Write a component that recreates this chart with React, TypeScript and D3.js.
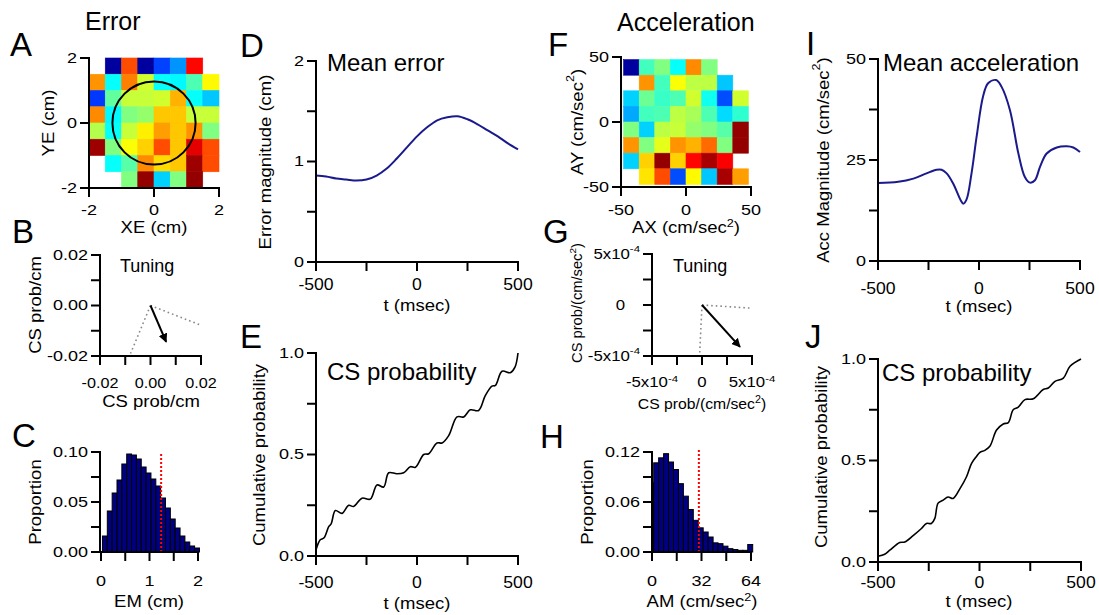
import React from 'react';
import * as d3 from 'd3';

const FONT = "'Liberation Sans', Arial, Helvetica, sans-serif";

// ---------------- DATA ----------------
// Panel A: error heat map (jet colour index 0..1, null = empty), rows top (YE=2) to bottom
const errorGridOrigin = [-2, 2];
const errorCellSize = 0.5;
const errorGrid: (number | null)[][] = [
  [null, 0.03, 0.8, 0.03, 0.19, 0.27, 0.87, null],
  [0.73, 0.38, 0.75, 0.58, 0.38, 0.37, 0.45, 0.63],
  [0.18, 0.47, 0.57, 0.57, 0.58, 0.7, 0.38, 0.32],
  [0.74, 0.37, 0.5, 0.52, 0.68, 0.68, 0.57, 0.57],
  [0.55, 0.38, 0.57, 0.64, 0.72, 0.68, 0.73, 0.5],
  [0.97, 0.5, 0.62, 0.67, 0.8, 0.68, 0.9, 0.8],
  [null, 0.38, 0.46, 0.74, 0.66, 0.68, 0.97, 0.8],
  [null, null, 0.5, 0.98, 0.33, 0.5, 0.98, null],
];
const errorCircleRadius = 1.28;

// Panel F: acceleration heat map
const accGridOrigin = [-48, 48];
const accCellSize = 12;
const accGrid: (number | null)[][] = [
  [0.03, 0.44, 0.5, 0.38, 0.74, 0.5, null, null],
  [null, 0.73, 0.44, 0.62, 0.56, 0.56, 0.32, null],
  [0.33, 0.48, 0.43, 0.45, 0.58, 0.39, 0.2, 0.58],
  [0.29, 0.44, 0.45, 0.56, 0.54, 0.45, 0.34, 0.42],
  [0.5, 0.33, 0.56, 0.57, 0.52, 0.5, 0.46, 0.98],
  [0.73, 0.5, 0.6, 0.73, 0.7, 0.77, 0.5, 0.98],
  [0.33, 0.67, 0.98, 0.67, 0.87, 0.96, 0.88, null],
  [null, 0.65, 0.8, 0.2, 0.63, 0.32, 0.96, 0.72],
];

// Panels B, G: tuning vectors
const tuningErrorDotted = [[0.0197, -0.0077], [-0.0079, -0.019]];
const tuningErrorArrow = [0.0062, -0.0144];
const tuningAccDotted = [[4.8e-4, -0.3e-4], [-0.23e-4, -4.7e-4]];
const tuningAccArrow = [3.8e-4, -4.1e-4];

// Panel C: error magnitude histogram
const emBinStart = 0.03;
const emBinWidth = 0.1;
const emProportion = [0.016, 0.041, 0.059, 0.072, 0.088, 0.098, 0.097, 0.093, 0.085, 0.079, 0.073, 0.066, 0.054, 0.044, 0.033, 0.024, 0.016, 0.01, 0.006, 0.004];
const emThreshold = 1.24;

// Panel H: acceleration magnitude histogram
const amBinStart = -2.1;
const amBinWidth = 3.2;
const amProportion = [0.083, 0.107, 0.113, 0.118, 0.108, 0.099, 0.082, 0.067, 0.051, 0.038, 0.029, 0.024, 0.018, 0.011, 0.01, 0.007, 0.004, 0.003, 0.002, 0.002, 0.009];
const amThreshold = 30.3;

// Panel D: mean error
const meanErrorT = [-500, -450, -400, -350, -300, -250, -200, -150, -100, -50, 0, 50, 100, 150, 200, 250, 300, 350, 400, 450, 500];
const meanError = [0.86, 0.85, 0.83, 0.82, 0.81, 0.82, 0.86, 0.93, 1.03, 1.14, 1.25, 1.34, 1.41, 1.44, 1.45, 1.42, 1.37, 1.31, 1.25, 1.18, 1.12];

// Panel E: CS probability (error)
const csErrT = [-500, -490, -479, -460, -437, -425, -404, -371, -338, -314, -272, -231, -198, -165, -140, -100, -66, -33, -8, 33, 58, 99, 124, 157, 198, 231, 264, 305, 338, 371, 388, 421, 462, 485, 500];
const csErrP = [0.03, 0.06, 0.08, 0.09, 0.145, 0.158, 0.224, 0.21, 0.25, 0.244, 0.285, 0.28, 0.35, 0.34, 0.41, 0.405, 0.41, 0.44, 0.437, 0.5, 0.504, 0.557, 0.557, 0.593, 0.685, 0.685, 0.72, 0.717, 0.79, 0.837, 0.84, 0.91, 0.903, 0.93, 1.0];

// Panel I: mean acceleration
const meanAccT = [-500, -400, -325, -260, -210, -185, -160, -128, -90, -78, -62, -37, -12, 20, 45, 85, 112, 153, 195, 227, 252, 277, 302, 335, 385, 435, 467, 500];
const meanAcc = [19.3, 19.6, 20.4, 21.7, 22.6, 22.6, 21.7, 19.2, 15, 14.2, 15.2, 21.7, 30.7, 40.7, 44, 44.8, 43.1, 37.4, 26.6, 20.8, 19.4, 20, 23.3, 26.6, 28.1, 28.4, 28.1, 27];

// Panel J: CS probability (acceleration)
const csAccT = [-500, -467, -442, -393, -368, -327, -286, -261, -237, -220, -204, -179, -155, -130, -97, -64, -39, -15, 2, 26, 51, 84, 117, 142, 166, 191, 224, 265, 314, 339, 372, 413, 446, 500];
const csAccP = [0.028, 0.038, 0.058, 0.096, 0.099, 0.13, 0.165, 0.19, 0.19, 0.215, 0.29, 0.305, 0.32, 0.313, 0.36, 0.42, 0.486, 0.52, 0.54, 0.55, 0.57, 0.65, 0.68, 0.687, 0.75, 0.763, 0.8, 0.804, 0.85, 0.857, 0.89, 0.906, 0.964, 1.0];

// Ticks
const tTicks = [-500, -250, 0, 250, 500];
const tLabels = ['-500', '0', '500'];
const cmTicks = [-2, 0, 2];
const accTicks = [-50, 0, 50];
const tuneErrTicks = [-0.02, -0.01, 0, 0.01, 0.02];
const tuneErrLabels = ['-0.02', '0.00', '0.02'];
const tuneAccTicks = [-5e-4, -2.5e-4, 0, 2.5e-4, 5e-4];
const emXTicks = [0, 0.5, 1, 1.5, 2];
const emYTicks = [0, 0.025, 0.05, 0.075, 0.1];
const emYLabels = ['0.00', '0.05', '0.10'];
const amXTicks = [0, 16, 32, 48, 64];
const amYTicks = [0, 0.03, 0.06, 0.09, 0.12];
const amYLabels = ['0.00', '0.06', '0.12'];
const meYTicks = [0, 0.5, 1, 1.5, 2];
const probTicks = [0, 0.25, 0.5, 0.75, 1];
const probLabels = ['0.0', '0.5', '1.0'];
const maTicks = [0, 12.5, 25, 37.5, 50];

// ---------------- HELPERS ----------------
const TICK = 15;
const TSX = 1.2;
const AXT = 17;
const ASX = 1.09;

function jet(v: number) {
  const c = (t: number) => Math.max(0, Math.min(1, t));
  const r = c(1.5 - Math.abs(4 * v - 3));
  const g = c(1.5 - Math.abs(4 * v - 2));
  const b = c(1.5 - Math.abs(4 * v - 1));
  return d3.rgb(r * 255, g * 255, b * 255).formatHex();
}

function T({ x, y, size, anchor = 'start', rot = 0, sx = 1, mid = false, children, fill = '#000' }: any) {
  const tr = `translate(${x},${y})` + (rot ? ` rotate(${rot})` : '') + (sx !== 1 ? ` scale(${sx},1)` : '');
  return (
    <text transform={tr} fontSize={size} textAnchor={anchor} dominantBaseline={mid ? 'central' : undefined} fontFamily={FONT} fill={fill}>
      {children}
    </text>
  );
}

function Sup({ s, size }: any) {
  return <tspan dy={-size * 0.38} fontSize={size * 0.68}>{s}</tspan>;
}

function Sq({ size }: any) {
  return (
    <>
      (cm/sec<Sup s="2" size={size} /><tspan dy={size * 0.38}>)</tspan>
    </>
  );
}

function YAxis({ scale, x, ticks, labels, size = TICK, sx = TSX, tl = 9, gap = 3 }: any) {
  const r = scale.range();
  const top = Math.min(r[0], r[1]);
  const bot = Math.max(r[0], r[1]);
  return (
    <g>
      <line x1={x} x2={x} y1={top} y2={bot} stroke="#000" strokeWidth={2} strokeLinecap="square" />
      {ticks.map((t: number) => (
        <line key={t} x1={x - tl} x2={x} y1={scale(t)} y2={scale(t)} stroke="#000" strokeWidth={2} />
      ))}
      {labels.map((l: any, i: number) => (
        <T key={i} x={x - tl - gap - (l.dx || 0)} y={scale(l.v)} size={size} sx={sx} anchor="end" mid>
          {l.text}
        </T>
      ))}
    </g>
  );
}

function XAxis({ scale, y, x0, ticks, labels, labelY, size = TICK, sx = TSX, tl = 9 }: any) {
  const r = scale.range();
  return (
    <g>
      <line x1={x0 ?? r[0]} x2={r[1]} y1={y} y2={y} stroke="#000" strokeWidth={2} strokeLinecap="square" />
      {ticks.map((t: number) => (
        <line key={t} x1={scale(t)} x2={scale(t)} y1={y} y2={y + tl} stroke="#000" strokeWidth={2} />
      ))}
      {labels.map((l: any, i: number) => (
        <T key={i} x={scale(l.v)} y={labelY} size={size} sx={sx} anchor="middle">
          {l.text}
        </T>
      ))}
    </g>
  );
}

function Heat({ grid, origin, cell, xs, ys }: any) {
  return (
    <g>
      {grid.map((row: (number | null)[], r: number) =>
        row.map((v, c) => {
          if (v == null) return null;
          const xa = xs(origin[0] + c * cell);
          const xb = xs(origin[0] + (c + 1) * cell);
          const ya = ys(origin[1] - r * cell);
          const yb = ys(origin[1] - (r + 1) * cell);
          const f = jet(v);
          return <rect key={`${r}-${c}`} x={xa} y={ya} width={xb - xa} height={yb - ya} fill={f} stroke={f} strokeWidth={0.6} />;
        })
      )}
    </g>
  );
}

function Hist({ values, start, width, xs, ys }: any) {
  const d0 = xs.domain()[0];
  return (
    <g>
      {values.map((v: number, i: number) => {
        const a = Math.max(d0, start + i * width);
        const b = start + (i + 1) * width;
        return <rect key={i} x={xs(a)} y={ys(v)} width={xs(b) - xs(a)} height={ys(0) - ys(v)} fill="#000080" stroke="#000" strokeWidth={1} />;
      })}
    </g>
  );
}

function curvePath(xs: any, ys: any, X: number[], Y: number[]) {
  const line = d3
    .line<number>()
    .x((_, i) => xs(X[i]))
    .y((d) => ys(d))
    .curve(d3.curveCatmullRom.alpha(0.5));
  return line(Y) || '';
}

export default function App() {
  const xA = d3.scaleLinear().domain([-2, 2]).range([89, 219]);
  const yA = d3.scaleLinear().domain([-2, 2]).range([188, 58]);
  const xF = d3.scaleLinear().domain([-50, 50]).range([621, 751]);
  const yF = d3.scaleLinear().domain([-50, 50]).range([187, 57]);
  const xB = d3.scaleLinear().domain([-0.02, 0.02]).range([100, 201]);
  const yB = d3.scaleLinear().domain([-0.02, 0.02]).range([356, 255]);
  const xG = d3.scaleLinear().domain([-5e-4, 5e-4]).range([652, 752]);
  const yG = d3.scaleLinear().domain([-5e-4, 5e-4]).range([356, 254]);
  const xC = d3.scaleLinear().domain([0, 2]).range([101, 198]);
  const yC = d3.scaleLinear().domain([0, 0.1]).range([552, 452]);
  const xH = d3.scaleLinear().domain([0, 64]).range([652, 751]);
  const yH = d3.scaleLinear().domain([0, 0.12]).range([552, 452]);
  const xD = d3.scaleLinear().domain([-500, 500]).range([316, 518]);
  const yD = d3.scaleLinear().domain([0, 2]).range([262, 61]);
  const xE = d3.scaleLinear().domain([-500, 500]).range([316, 518]);
  const yE = d3.scaleLinear().domain([0, 1]).range([556, 353]);
  const xI = d3.scaleLinear().domain([-500, 500]).range([878, 1080]);
  const yI = d3.scaleLinear().domain([0, 50]).range([261, 59]);
  const xJ = d3.scaleLinear().domain([-500, 500]).range([878, 1081]);
  const yJ = d3.scaleLinear().domain([0, 1]).range([562, 359]);

  const tl = tLabels.map((t) => ({ v: +t, text: t }));
  const sci = (m: string, size: number) => (
    <>
      {m}x10<Sup s="-4" size={size} />
    </>
  );

  const LET = 33;
  const TIT = 24;

  return (
    <svg width={1099} height={615} style={{ position: 'absolute', left: 0, top: 0, background: '#fff' }} fontFamily={FONT}>
      <defs>
        <marker id="arr" viewBox="0 0 10 10" refX="9" refY="5" markerWidth="9" markerHeight="9" markerUnits="userSpaceOnUse" orient="auto">
          <path d="M0,0 L10,5 L0,10 z" fill="#000" />
        </marker>
      </defs>

      {/* Headings */}
      <T x={85} y={30} size={25}>Error</T>
      <T x={617} y={31} size={25}>Acceleration</T>

      {/* ---------- A ---------- */}
      <T x={10} y={56} size={LET}>A</T>
      <Heat grid={errorGrid} origin={errorGridOrigin} cell={errorCellSize} xs={xA} ys={yA} />
      <ellipse cx={xA(0)} cy={yA(0)} rx={xA(errorCircleRadius) - xA(0)} ry={yA(0) - yA(errorCircleRadius)} fill="none" stroke="#000" strokeWidth={2} />
      <YAxis scale={yA} x={89} ticks={cmTicks} labels={cmTicks.map((v) => ({ v, text: String(v) }))} />
      <XAxis scale={xA} y={188} ticks={cmTicks} labels={cmTicks.map((v) => ({ v, text: String(v) }))} labelY={215} />
      <T x={154} y={233} size={AXT} sx={ASX} anchor="middle">XE (cm)</T>
      <T x={48} y={123} size={AXT} sx={ASX} anchor="middle" rot={-90} mid>YE (cm)</T>

      {/* ---------- B ---------- */}
      <T x={12} y={243} size={LET}>B</T>
      <T x={120} y={272} size={18}>Tuning</T>
      {tuningErrorDotted.map((p, i) => (
        <line key={i} x1={xB(0)} y1={yB(0)} x2={xB(p[0])} y2={yB(p[1])} stroke="#888" strokeWidth={1.6} strokeDasharray="1.6,3" />
      ))}
      <line x1={xB(0)} y1={yB(0)} x2={xB(tuningErrorArrow[0])} y2={yB(tuningErrorArrow[1])} stroke="#000" strokeWidth={2} markerEnd="url(#arr)" />
      <YAxis scale={yB} x={100} ticks={tuneErrTicks} labels={[0.02, 0, -0.02].map((v, i) => ({ v, text: tuneErrLabels[2 - i] }))} />
      <XAxis scale={xB} y={356} ticks={tuneErrTicks} labels={[-0.02, 0, 0.02].map((v, i) => ({ v, text: tuneErrLabels[i] }))} labelY={388} sx={1.08} />
      <T x={151} y={407} size={AXT} sx={ASX} anchor="middle">CS prob/cm</T>
      <T x={35} y={305} size={AXT} sx={ASX} anchor="middle" rot={-90} mid>CS prob/cm</T>

      {/* ---------- C ---------- */}
      <T x={12} y={447} size={LET}>C</T>
      <Hist values={emProportion} start={emBinStart} width={emBinWidth} xs={xC} ys={yC} />
      <line x1={xC(emThreshold)} x2={xC(emThreshold)} y1={yC(0)} y2={yC(0.1)} stroke="#ff0000" strokeWidth={2} strokeDasharray="2,2" />
      <YAxis scale={yC} x={100} ticks={emYTicks} labels={[0, 0.05, 0.1].map((v, i) => ({ v, text: emYLabels[i] }))} />
      <XAxis scale={xC} y={552} x0={100} ticks={emXTicks} labels={[0, 1, 2].map((v) => ({ v, text: String(v) }))} labelY={586} />
      <T x={149} y={607} size={AXT} sx={ASX} anchor="middle">EM (cm)</T>
      <T x={35} y={502} size={AXT} sx={ASX} anchor="middle" rot={-90} mid>Proportion</T>

      {/* ---------- D ---------- */}
      <T x={240} y={57} size={LET}>D</T>
      <T x={327} y={71} size={TIT}>Mean error</T>
      <path d={curvePath(xD, yD, meanErrorT, meanError)} fill="none" stroke="#1a1a8c" strokeWidth={2} />
      <YAxis scale={yD} x={316} ticks={meYTicks} labels={[0, 1, 2].map((v) => ({ v, text: String(v) }))} />
      <XAxis scale={xD} y={262} ticks={tTicks} labels={tl} labelY={290} size={16} sx={1.1} />
      <T x={417} y={311} size={AXT} sx={ASX} anchor="middle">t (msec)</T>
      <T x={265} y={162} size={AXT} sx={ASX} anchor="middle" rot={-90} mid>Error magnitude (cm)</T>

      {/* ---------- E ---------- */}
      <T x={240} y={348} size={LET}>E</T>
      <T x={327} y={380} size={TIT}>CS probability</T>
      <path d={curvePath(xE, yE, csErrT, csErrP)} fill="none" stroke="#000" strokeWidth={1.6} />
      <YAxis scale={yE} x={316} ticks={probTicks} labels={[0, 0.5, 1].map((v, i) => ({ v, text: probLabels[i] }))} />
      <XAxis scale={xE} y={556} ticks={tTicks} labels={tl} labelY={588} size={16} sx={1.1} />
      <T x={417} y={609} size={AXT} sx={ASX} anchor="middle">t (msec)</T>
      <T x={259} y={455} size={AXT} sx={ASX} anchor="middle" rot={-90} mid>Cumulative probability</T>

      {/* ---------- F ---------- */}
      <T x={548} y={56} size={LET}>F</T>
      <Heat grid={accGrid} origin={accGridOrigin} cell={accCellSize} xs={xF} ys={yF} />
      <YAxis scale={yF} x={621} ticks={accTicks} labels={accTicks.map((v) => ({ v, text: String(v) }))} />
      <XAxis scale={xF} y={187} ticks={accTicks} labels={accTicks.map((v) => ({ v, text: String(v) }))} labelY={215} />
      <T x={686} y={233} size={AXT} sx={ASX} anchor="middle">AX <Sq size={AXT} /></T>
      <T x={577} y={122} size={AXT} sx={ASX} anchor="middle" rot={-90} mid>AY <Sq size={AXT} /></T>

      {/* ---------- G ---------- */}
      <T x={543} y={243} size={LET}>G</T>
      <T x={673} y={272} size={18}>Tuning</T>
      {tuningAccDotted.map((p, i) => (
        <line key={i} x1={xG(0)} y1={yG(0)} x2={xG(p[0])} y2={yG(p[1])} stroke="#888" strokeWidth={1.6} strokeDasharray="1.6,3" />
      ))}
      <line x1={xG(0)} y1={yG(0)} x2={xG(tuningAccArrow[0])} y2={yG(tuningAccArrow[1])} stroke="#000" strokeWidth={2} markerEnd="url(#arr)" />
      <YAxis
        scale={yG}
        x={652}
        ticks={tuneAccTicks}
        size={14}
        labels={[
          { v: 5e-4, text: sci('5', 14) },
          { v: 0, text: '0', dx: 15 },
          { v: -5e-4, text: sci('-5', 14) },
        ]}
      />
      <XAxis
        scale={xG}
        y={356}
        ticks={tuneAccTicks}
        size={14}
        labels={[
          { v: -5e-4, text: sci('-5', 14) },
          { v: 0, text: '0' },
          { v: 5e-4, text: sci('5', 14) },
        ]}
        labelY={387}
      />
      <T x={702} y={409} size={15} sx={1.05} anchor="middle">CS prob/<Sq size={15} /></T>
      <T x={577} y={303} size={14} sx={1.05} anchor="middle" rot={-90} mid>CS prob/<Sq size={14} /></T>

      {/* ---------- H ---------- */}
      <T x={540} y={448} size={LET}>H</T>
      <Hist values={amProportion} start={amBinStart} width={amBinWidth} xs={xH} ys={yH} />
      <line x1={xH(amThreshold)} x2={xH(amThreshold)} y1={yH(0)} y2={yH(0.123)} stroke="#ff0000" strokeWidth={2} strokeDasharray="2,2" />
      <YAxis scale={yH} x={652} ticks={amYTicks} labels={[0, 0.06, 0.12].map((v, i) => ({ v, text: amYLabels[i] }))} />
      <XAxis scale={xH} y={552} ticks={amXTicks} labels={[0, 32, 64].map((v) => ({ v, text: String(v) }))} labelY={586} />
      <T x={702} y={607} size={AXT} sx={ASX} anchor="middle">AM <Sq size={AXT} /></T>
      <T x={587} y={502} size={AXT} sx={ASX} anchor="middle" rot={-90} mid>Proportion</T>

      {/* ---------- I ---------- */}
      <T x={806} y={55} size={LET}>I</T>
      <T x={883} y={71} size={TIT}>Mean acceleration</T>
      <path d={curvePath(xI, yI, meanAccT, meanAcc)} fill="none" stroke="#1a1a8c" strokeWidth={2} />
      <YAxis scale={yI} x={878} ticks={maTicks} labels={[0, 25, 50].map((v) => ({ v, text: String(v) }))} />
      <XAxis scale={xI} y={261} ticks={tTicks} labels={tl} labelY={294} size={16} sx={1.1} />
      <T x={979} y={312} size={AXT} sx={ASX} anchor="middle">t (msec)</T>
      <T x={823} y={160} size={AXT} sx={ASX} anchor="middle" rot={-90} mid>Acc Magnitude <Sq size={AXT} /></T>

      {/* ---------- J ---------- */}
      <T x={805} y={348} size={LET}>J</T>
      <T x={882} y={381} size={TIT}>CS probability</T>
      <path d={curvePath(xJ, yJ, csAccT, csAccP)} fill="none" stroke="#000" strokeWidth={1.6} />
      <YAxis scale={yJ} x={878} ticks={probTicks} labels={[0, 0.5, 1].map((v, i) => ({ v, text: probLabels[i] }))} />
      <XAxis scale={xJ} y={562} ticks={tTicks} labels={tl} labelY={588} size={16} sx={1.1} />
      <T x={979} y={607} size={AXT} sx={ASX} anchor="middle">t (msec)</T>
      <T x={821} y={457} size={AXT} sx={ASX} anchor="middle" rot={-90} mid>Cumulative probability</T>
    </svg>
  );
}
